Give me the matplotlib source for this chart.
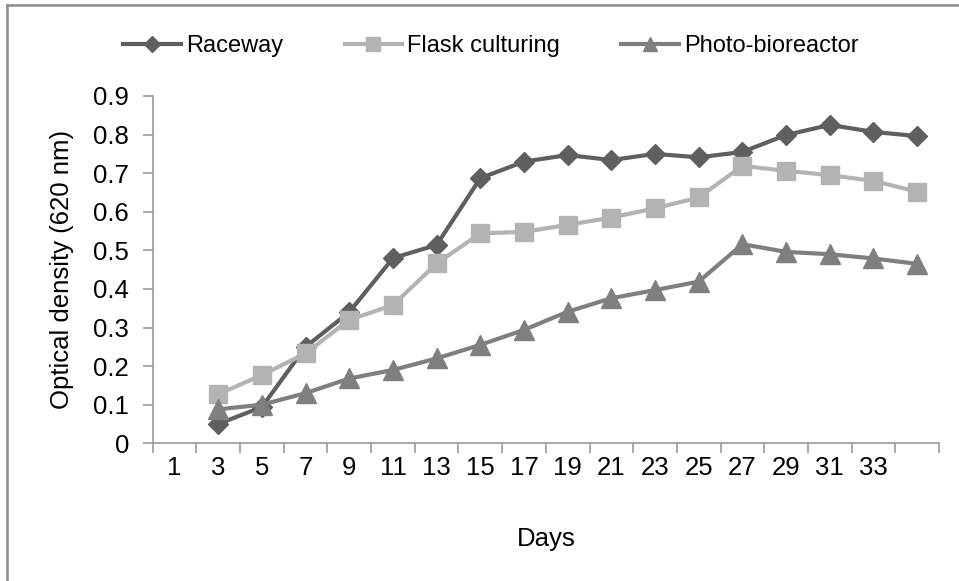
import matplotlib.pyplot as plt
import matplotlib.lines as mlines
import numpy as np

plt.rcParams['font.family'] = ['Liberation Sans', 'DejaVu Sans']

days = [1, 3, 5, 7, 9, 11, 13, 15, 17, 19, 21, 23, 25, 27, 29, 31, 33, 35]
day_labels = [str(d) for d in days[:-1]] + [""]
raceway = [np.nan, 0.05, 0.094, 0.25, 0.34, 0.48, 0.514, 0.687, 0.73, 0.747, 0.734,
           0.75, 0.741, 0.755, 0.799, 0.825, 0.807, 0.796]
flask = [np.nan, 0.127, 0.177, 0.233, 0.32, 0.358, 0.466, 0.544, 0.548, 0.566, 0.585,
         0.609, 0.637, 0.719, 0.706, 0.695, 0.68, 0.652]
photo = [np.nan, 0.088, 0.1, 0.13, 0.168, 0.19, 0.22, 0.255, 0.294, 0.341, 0.376,
         0.397, 0.419, 0.516, 0.496, 0.49, 0.479, 0.465]
yticks = [0, 0.1, 0.2, 0.3, 0.4, 0.5, 0.6, 0.7, 0.8, 0.9]

fs = 18.5
fig = plt.figure(figsize=(9.59, 5.81), dpi=100)
ax = fig.add_axes([152.7 / 959, 1 - 443.3 / 581, (939 - 152.7) / 959, (443.3 - 96) / 581])

x = np.arange(len(days))
ax.plot(x, raceway, "D-", color="#5f5f5f", lw=3, ms=10.5, label="Raceway", clip_on=False)
ax.plot(x, flask, "s-", color="#b3b3b3", lw=3, ms=13.5, label="Flask culturing", clip_on=False)
ax.plot(x, photo, "^-", color="#7f7f7f", lw=3, ms=14, label="Photo-bioreactor", clip_on=False)

ax.set_xlim(-0.5, len(days) - 0.5)
ax.set_ylim(0, 0.9)
ax.set_xticks(np.arange(len(days) + 1) - 0.5)
ax.set_xticklabels([])
ax.set_xticks(x, minor=True)
ax.set_xticklabels(day_labels, minor=True, fontsize=fs)
ax.tick_params(axis="x", which="minor", length=0, pad=9)
ax.tick_params(axis="x", which="major", length=7, color="#999999", width=1.2, direction="out")
ax.set_yticks(yticks)
ax.set_yticklabels(["0"] + [f"{v:.1f}" for v in yticks[1:]], fontsize=fs)
ax.tick_params(axis="y", length=7, color="#999999", width=1.2, pad=10)

for s in ["top", "right"]:
    ax.spines[s].set_visible(False)
for s in ["left", "bottom"]:
    ax.spines[s].set_color("#999999")
    ax.spines[s].set_linewidth(1.2)

ax.set_xlabel("Days", fontsize=fs, labelpad=34)
ax.set_ylabel("Optical density (620 nm)", fontsize=fs, labelpad=14)

fig.legend(loc="center", bbox_to_anchor=(491 / 959, 1 - 46 / 581), ncol=3, frameon=False,
           fontsize=17, handlelength=2.45, handletextpad=0.2, columnspacing=2.6, markerscale=0.75)

# chart border (top and left edges visible)
fig.add_artist(mlines.Line2D([7 / 959, 7 / 959], [0, 1 - 5 / 581], color="#8c8c8c", lw=1.8))
fig.add_artist(mlines.Line2D([7 / 959, 1], [1 - 5 / 581, 1 - 5 / 581], color="#8c8c8c", lw=1.8))

fig.savefig("out.png", dpi=100)
